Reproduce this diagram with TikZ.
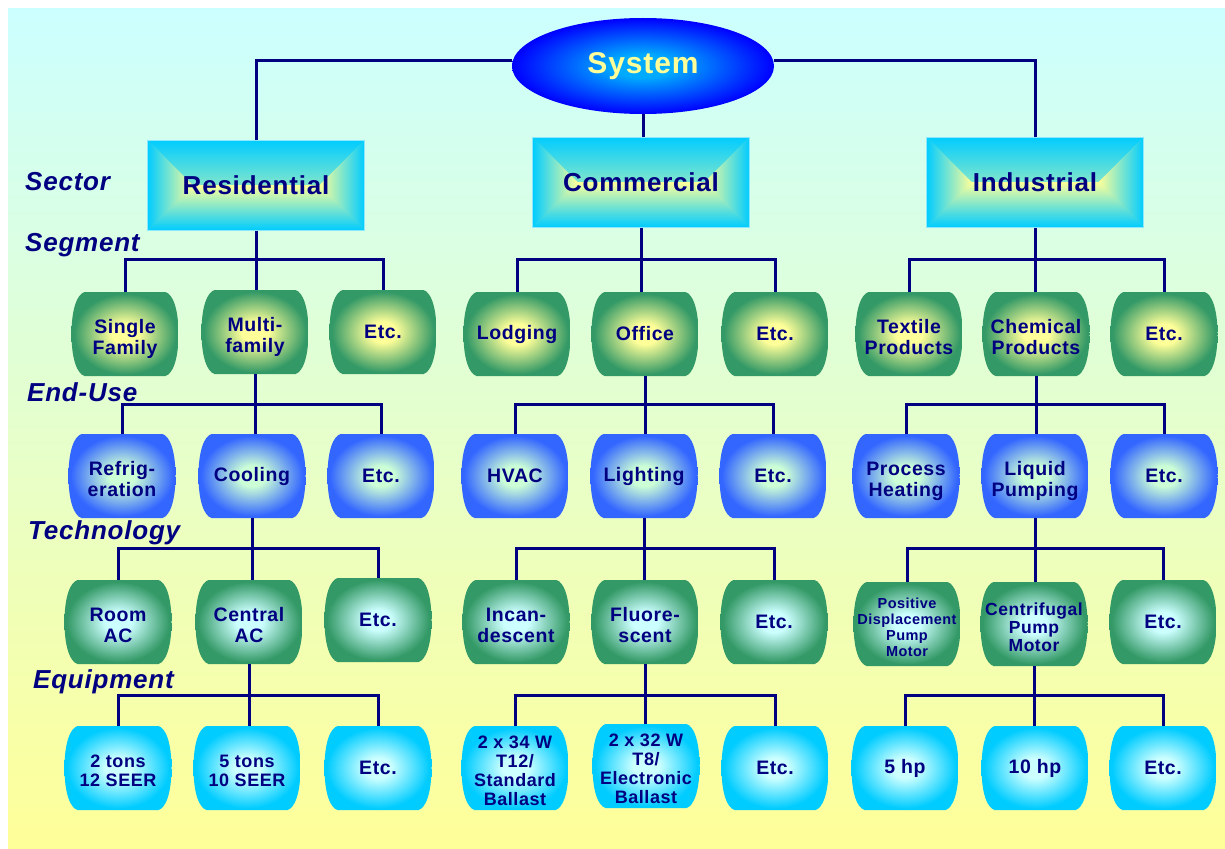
\documentclass[tikz,border=0pt]{standalone}
\usepackage{fontspec}
\setmainfont{Liberation Sans}[LetterSpace=3]
\usetikzlibrary{shapes.geometric}
\definecolor{navy}{RGB}{0,0,128}
\definecolor{bgtop}{RGB}{204,255,255}
\definecolor{bgbot}{RGB}{255,255,153}
\definecolor{paleyellow}{RGB}{255,255,153}
\definecolor{palecyan}{RGB}{204,255,255}
\definecolor{palemint}{RGB}{204,255,214}
\definecolor{skyblue}{RGB}{0,204,255}
\definecolor{seagreen}{RGB}{51,153,102}
\definecolor{royalblue}{RGB}{51,102,255}
\definecolor{sysblue}{RGB}{0,0,255}
\definecolor{syslight}{RGB}{0,170,255}
\definecolor{sysyellow}{RGB}{255,255,153}
\pgfdeclareradialshading{sysshade}{\pgfpoint{0bp}{0bp}}{color(0bp)=(syslight); color(6bp)=(syslight); color(25bp)=(sysblue); color(50bp)=(sysblue)}
\pgfdeclareradialshading{segshade}{\pgfpoint{0bp}{0bp}}{color(0bp)=(paleyellow); color(6bp)=(paleyellow); color(24bp)=(seagreen); color(50bp)=(seagreen)}
\pgfdeclareradialshading{useshade}{\pgfpoint{0bp}{0bp}}{color(0bp)=(palemint); color(6bp)=(palemint); color(24bp)=(royalblue); color(50bp)=(royalblue)}
\pgfdeclareradialshading{techshade}{\pgfpoint{0bp}{0bp}}{color(0bp)=(palecyan); color(6bp)=(palecyan); color(24bp)=(seagreen); color(50bp)=(seagreen)}
\pgfdeclareradialshading{equipshade}{\pgfpoint{0bp}{0bp}}{color(0bp)=(palecyan); color(6bp)=(palecyan); color(24bp)=(skyblue); color(50bp)=(skyblue)}
\newcommand\boxlines[1]{\raisebox{-5.5pt}[\height][\depth]{\begin{tabular}{@{}c@{}}#1\end{tabular}}}
\tikzset{
  conn/.style={draw=navy, line width=3pt},
  levellabel/.style={anchor=west, inner sep=0pt, text=navy, font=\fontsize{26}{28}\selectfont\bfseries\itshape},
  sectorbox/.style={rectangle, minimum width=217pt, minimum height=90pt, fill=skyblue!40!paleyellow,
    draw=skyblue!45!white, line width=1pt, text=navy, font=\fontsize{26}{28}\selectfont\bfseries,
    path picture={
      \shade[top color=skyblue, middle color=skyblue!40!paleyellow, bottom color=paleyellow]
        (path picture bounding box.north west)
        -- (path picture bounding box.north east) -- ([xshift=63.5pt]path picture bounding box.center)
        -- ([xshift=-63.5pt]path picture bounding box.center) -- cycle;
      \shade[top color=paleyellow, middle color=skyblue!40!paleyellow, bottom color=skyblue]
        (path picture bounding box.south west)
        -- (path picture bounding box.south east) -- ([xshift=63.5pt]path picture bounding box.center)
        -- ([xshift=-63.5pt]path picture bounding box.center) -- cycle;
      \shade[left color=skyblue, middle color=skyblue!40!paleyellow, right color=paleyellow]
        (path picture bounding box.north west)
        -- (path picture bounding box.south west) -- ([xshift=-63.5pt]path picture bounding box.center) -- cycle;
      \shade[left color=paleyellow, middle color=skyblue!40!paleyellow, right color=skyblue]
        (path picture bounding box.north east)
        -- (path picture bounding box.south east) -- ([xshift=63.5pt]path picture bounding box.center) -- cycle;}},
  barrel/.style={rectangle, minimum width=107pt, minimum height=84pt, inner sep=0pt, align=center,
    text=navy, font=\fontsize{19.5}{21}\selectfont\bfseries,
    path picture={\shade[shading=#1]
      ([xshift=13pt]path picture bounding box.north west) -- ([xshift=-13pt]path picture bounding box.north east)
      .. controls +(7pt,-2pt) and +(0pt,26pt) .. (path picture bounding box.east)
      .. controls +(0pt,-26pt) and +(7pt,2pt) .. ([xshift=-13pt]path picture bounding box.south east)
      -- ([xshift=13pt]path picture bounding box.south west)
      .. controls +(-7pt,2pt) and +(0pt,-26pt) .. (path picture bounding box.west)
      .. controls +(0pt,26pt) and +(-7pt,-2pt) .. cycle;}},
  small/.style={font=\fontsize{18}{19}\selectfont\bfseries},
  tiny/.style={font=\fontsize{14.5}{16}\selectfont\bfseries}
}
\begin{document}
\begin{tikzpicture}[x=1pt, y=-1pt]
  \useasboundingbox (0,0) rectangle (1225,848);
  \shade [top color=bgtop, bottom color=bgbot] (8,9) rectangle (1225,848);

  \coordinate (segbus) at (0,259);
  \coordinate (usebus) at (0,404);
  \coordinate (techbus) at (0,548);
  \coordinate (equipbus) at (0,695);

  \node (Sector) [levellabel] at (25,182) {Sector};
  \node (Segment) [levellabel] at (25,245) {Segment};
  \node (EndUse) [levellabel] at (27,392) {End-Use};
  \node (Technology) [levellabel] at (28,533) {Technology};
  \node (Equipment) [levellabel] at (33,682) {Equipment};

  \node (Sys) [ellipse, minimum width=262pt, minimum height=96pt, shade, shading=sysshade,
    text=sysyellow, font=\fontsize{30}{32}\selectfont\bfseries] at (643,66) {System};

  \node (Res) [sectorbox] at (256,185) {Residential};
  \node (Com) [sectorbox] at (641,182) {Commercial};
  \node (Ind) [sectorbox] at (1035,182) {Industrial};

  \node (Single) [barrel=segshade] at (125,334) {\boxlines{Single\\Family}};
  \node (Multi) [barrel=segshade] at (255,332) {\boxlines{Multi-\\family}};
  \node (ResEtcA) [barrel=segshade] at (383,332) {Etc.};
  \node (Lodging) [barrel=segshade] at (517,334) {Lodging};
  \node (Office) [barrel=segshade] at (645,334) {Office};
  \node (ComEtcA) [barrel=segshade] at (775,334) {Etc.};
  \node (Textile) [barrel=segshade] at (909,334) {\boxlines{Textile\\Products}};
  \node (Chemical) [barrel=segshade] at (1036,334) {\boxlines{Chemical\\Products}};
  \node (IndEtcA) [barrel=segshade] at (1164,334) {Etc.};

  \node (Refrig) [barrel=useshade] at (122,476) {\boxlines{Refrig-\\eration}};
  \node (Cooling) [barrel=useshade] at (252,476) {Cooling};
  \node (ResEtcB) [barrel=useshade] at (381,476) {Etc.};
  \node (HVAC) [barrel=useshade] at (515,476) {HVAC};
  \node (Lighting) [barrel=useshade] at (644,476) {Lighting};
  \node (ComEtcB) [barrel=useshade] at (773,476) {Etc.};
  \node (Process) [barrel=useshade] at (906,476) {\boxlines{Process\\Heating}};
  \node (Liquid) [barrel=useshade] at (1035,476) {\boxlines{Liquid\\Pumping}};
  \node (IndEtcB) [barrel=useshade] at (1164,476) {Etc.};

  \node (Room) [barrel=techshade] at (118,622) {\boxlines{Room\\AC}};
  \node (Central) [barrel=techshade] at (249,622) {\boxlines{Central\\AC}};
  \node (ResEtcC) [barrel=techshade] at (378,620) {Etc.};
  \node (Incand) [barrel=techshade] at (516,622) {\boxlines{Incan-\\descent}};
  \node (Fluor) [barrel=techshade] at (645,622) {\boxlines{Fluore-\\scent}};
  \node (ComEtcC) [barrel=techshade] at (774,622) {Etc.};
  \node (PosDisp) [barrel=techshade, tiny] at (907,624) {\boxlines{Positive\\Displacement\\Pump\\Motor}};
  \node (Centri) [barrel=techshade, font=\fontsize{17.5}{18}\selectfont\bfseries] at (1034,624) {\boxlines{Centrifugal\\Pump\\Motor}};
  \node (IndEtcC) [barrel=techshade] at (1163,622) {Etc.};

  \node (TwoTons) [barrel=equipshade, small] at (118,768) {\boxlines{2 tons\\12 SEER}};
  \node (FiveTons) [barrel=equipshade, small] at (247,768) {\boxlines{5 tons\\10 SEER}};
  \node (ResEtcD) [barrel=equipshade] at (378,768) {Etc.};
  \node (LampA) [barrel=equipshade, small] at (515,768) {\boxlines{2 x 34 W\\T12/\\Standard\\Ballast}};
  \node (LampB) [barrel=equipshade, small] at (646,766) {\boxlines{2 x 32 W\\T8/\\Electronic\\Ballast}};
  \node (ComEtcD) [barrel=equipshade] at (775,768) {Etc.};
  \node (FiveHp) [barrel=equipshade] at (905,768) {5 hp};
  \node (TenHp) [barrel=equipshade] at (1035,768) {10 hp};
  \node (IndEtcD) [barrel=equipshade] at (1163,768) {Etc.};

  \draw [conn] ([yshift=5pt]Sys.west) -| (Res.north);
  \draw [conn] ([yshift=5pt]Sys.east) -| (Ind.north);
  \draw [conn] (Sys.south) -- (Sys.south |- Com.north);

  \draw [conn] (Res.south) -- (Res.south |- Multi.north);
  \draw [conn] (Single.north) |- (ResEtcA.north |- segbus) -- (ResEtcA.north);
  \draw [conn] (Com.south) -- (Com.south |- Office.north);
  \draw [conn] (Lodging.north) |- (ComEtcA.north |- segbus) -- (ComEtcA.north);
  \draw [conn] (Ind.south) -- (Ind.south |- Chemical.north);
  \draw [conn] (Textile.north) |- (IndEtcA.north |- segbus) -- (IndEtcA.north);

  \draw [conn] (Multi.south) -- (Multi.south |- Cooling.north);
  \draw [conn] (Refrig.north) |- (ResEtcB.north |- usebus) -- (ResEtcB.north);
  \draw [conn] (Office.south) -- (Office.south |- Lighting.north);
  \draw [conn] (HVAC.north) |- (ComEtcB.north |- usebus) -- (ComEtcB.north);
  \draw [conn] (Chemical.south) -- (Chemical.south |- Liquid.north);
  \draw [conn] (Process.north) |- (IndEtcB.north |- usebus) -- (IndEtcB.north);

  \draw [conn] (Cooling.south) -- (Cooling.south |- Central.north);
  \draw [conn] (Room.north) |- (ResEtcC.north |- techbus) -- (ResEtcC.north);
  \draw [conn] (Lighting.south) -- (Lighting.south |- Fluor.north);
  \draw [conn] (Incand.north) |- (ComEtcC.north |- techbus) -- (ComEtcC.north);
  \draw [conn] (Liquid.south) -- (Liquid.south |- Centri.north);
  \draw [conn] (PosDisp.north) |- (IndEtcC.north |- techbus) -- (IndEtcC.north);

  \draw [conn] (Central.south) -- (Central.south |- FiveTons.north);
  \draw [conn] (TwoTons.north) |- (ResEtcD.north |- equipbus) -- (ResEtcD.north);
  \draw [conn] (Fluor.south) -- (Fluor.south |- LampB.north);
  \draw [conn] (LampA.north) |- (ComEtcD.north |- equipbus) -- (ComEtcD.north);
  \draw [conn] (Centri.south) -- (Centri.south |- TenHp.north);
  \draw [conn] (FiveHp.north) |- (IndEtcD.north |- equipbus) -- (IndEtcD.north);
\end{tikzpicture}
\end{document}
